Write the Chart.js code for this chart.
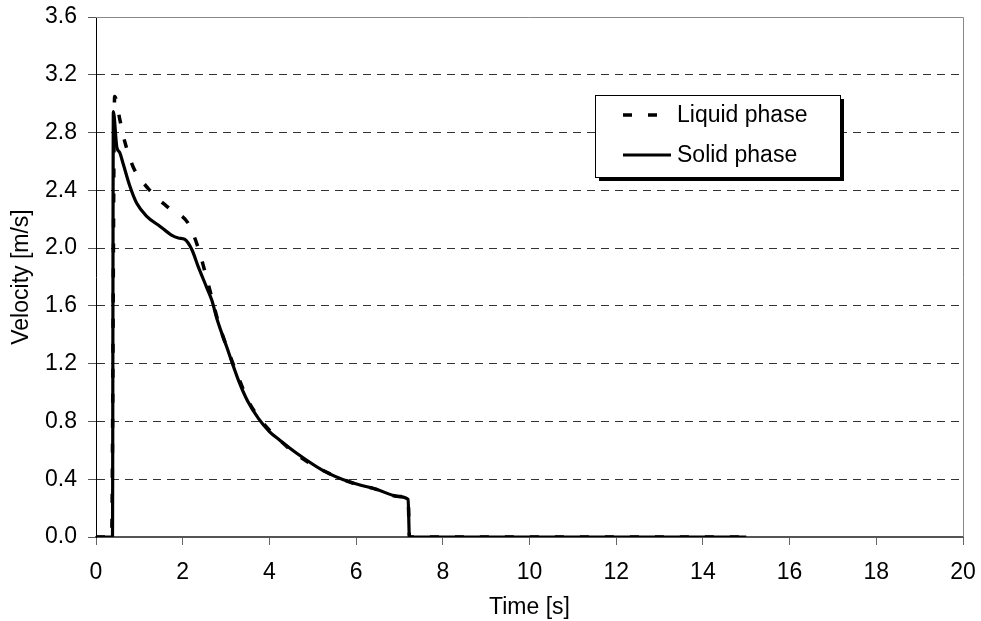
<!DOCTYPE html>
<html>
<head>
<meta charset="utf-8">
<title>Velocity</title>
<script src="https://cdn.jsdelivr.net/npm/chart.js@4.4.1/dist/chart.umd.min.js"></script>
<style>
  html, body { margin: 0; padding: 0; background: #fff; }
  #wrap { width: 981px; height: 621px; position: relative; }
</style>
</head>
<body>
<div id="wrap"><canvas id="velChart"></canvas></div>
<script>
'use strict';

// Liquid phase (dashed)
const liquidTime = [0, 0.36, 0.43, 0.55, 0.67, 0.86, 1.21, 1.67, 2.13, 2.36, 2.51, 2.67, 2.82, 3.01, 3.28, 3.50, 3.75, 4.00, 4.24, 4.63, 5.24, 5.86, 6.47, 7.00, 7.20, 7.23, 15.0];
const liquidVel  = [0, 0, 3.05, 2.89, 2.73, 2.56, 2.41, 2.28, 2.17, 2.00, 1.84, 1.66, 1.49, 1.32, 1.11, 0.95, 0.83, 0.74, 0.67, 0.57, 0.46, 0.38, 0.33, 0.28, 0.27, 0, 0];

// Solid phase (solid line)
const solidTime = [0, 0.38, 0.40, 0.48, 0.55, 0.63, 0.78, 0.94, 1.17, 1.48, 1.74, 1.90, 2.05, 2.21, 2.36, 2.55, 2.67, 2.80, 3.01, 3.28, 3.50, 3.75, 4.00, 4.24, 4.63, 5.24, 5.86, 6.47, 7.00, 7.20, 7.23, 15.0];
const solidVel  = [0, 0, 2.945, 2.70, 2.66, 2.58, 2.43, 2.31, 2.22, 2.15, 2.09, 2.07, 2.06, 1.99, 1.87, 1.73, 1.64, 1.50, 1.32, 1.09, 0.94, 0.82, 0.73, 0.67, 0.58, 0.46, 0.38, 0.33, 0.28, 0.26, 0, 0];

const seriesNames = ['Liquid phase', 'Solid phase'];

const xTitle = 'Time [s]';
const yTitle = 'Velocity [m/s]';

const toPoints = (xs, ys) => xs.map((x, i) => ({ x: x, y: ys[i] }));

Chart.defaults.font.family = "'Liberation Sans', Arial, sans-serif";
Chart.defaults.font.size = 23;
Chart.defaults.color = '#000';

// frame on top and right of the plot area
const frame = {
    id: 'frame',
    beforeDatasetsDraw(chart) {
        const { ctx, chartArea: a } = chart;
        ctx.save();
        ctx.strokeStyle = '#888';
        ctx.lineWidth = 1;
        ctx.beginPath();
        ctx.moveTo(a.left, a.top + 0.5);
        ctx.lineTo(a.right + 0.5, a.top + 0.5);
        ctx.lineTo(a.right + 0.5, a.bottom);
        ctx.stroke();
        ctx.restore();
    }
};

// boxed legend with shadow, like the original
const boxLegend = {
    id: 'boxLegend',
    afterDraw(chart) {
        const { ctx } = chart;
        const x = 595, y = 95, w = 245, h = 82;
        ctx.save();
        ctx.fillStyle = '#000';
        ctx.fillRect(x + 4, y + 4, w, h);
        ctx.fillStyle = '#fff';
        ctx.fillRect(x, y, w, h);
        ctx.strokeStyle = '#000';
        ctx.lineWidth = 1;
        ctx.strokeRect(x + 0.5, y + 0.5, w, h);

        ctx.font = "23px 'Liberation Sans', Arial, sans-serif";
        ctx.textBaseline = 'middle';
        ctx.fillStyle = '#000';
        chart.data.datasets.forEach((ds, i) => {
            const ly = y + 20 + i * 40;
            ctx.beginPath();
            ctx.lineWidth = ds.borderWidth;
            ctx.strokeStyle = ds.borderColor;
            ctx.setLineDash(ds.borderDash || []);
            ctx.moveTo(x + 28, ly);
            ctx.lineTo(x + 76, ly);
            ctx.stroke();
            ctx.setLineDash([]);
            ctx.fillText(ds.label, x + 82, ly + 1);
        });
        ctx.restore();
    }
};

new Chart(document.getElementById('velChart'), {
    type: 'line',
    data: {
        datasets: [{
            label: seriesNames[0],
            data: toPoints(liquidTime, liquidVel),
            borderColor: '#000',
            borderWidth: 3.5,
            borderDash: [9, 16],
            pointRadius: 0,
            cubicInterpolationMode: 'monotone',
            order: 2
        }, {
            label: seriesNames[1],
            data: toPoints(solidTime, solidVel),
            borderColor: '#000',
            borderWidth: 3.2,
            pointRadius: 0,
            cubicInterpolationMode: 'monotone',
            order: 1
        }]
    },
    options: {
        responsive: true,
        maintainAspectRatio: false,
        animation: false,
        layout: { padding: { left: 0, right: 18, top: 17, bottom: 0 } },
        plugins: {
            legend: { display: false },
            tooltip: { enabled: false }
        },
        scales: {
            x: {
                type: 'linear',
                min: 0,
                max: 20,
                afterFit: (scale) => {
                    scale.height = 84;
                    scale.paddingLeft = 0;
                    scale.paddingRight = 0;
                },
                ticks: { stepSize: 2, padding: 14, maxRotation: 0 },
                grid: { drawOnChartArea: false, tickLength: 8, color: '#666' },
                border: { color: '#555', width: 2 },
                title: { display: true, text: xTitle, padding: { top: 4, bottom: 0 } }
            },
            y: {
                min: 0,
                max: 3.6,
                afterFit: (scale) => {
                    scale.width = 96;
                    scale.paddingTop = 0;
                    scale.paddingBottom = 0;
                },
                ticks: {
                    stepSize: 0.4,
                    padding: 11,
                    callback: (v) => v.toFixed(1)
                },
                grid: { color: '#333', lineWidth: 1, tickLength: 8, tickColor: '#555' },
                border: { color: '#000', width: 1, dash: [8, 6] },
                title: { display: true, text: yTitle, padding: { top: 8, bottom: 0 } }
            }
        }
    },
    plugins: [frame, boxLegend]
});
</script>
</body>
</html>
